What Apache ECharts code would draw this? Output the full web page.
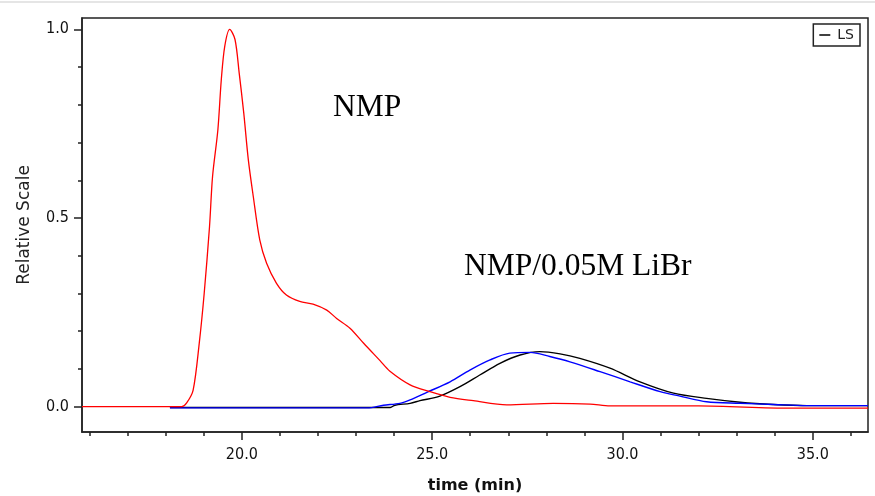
<!DOCTYPE html>
<html>
<head>
<meta charset="utf-8">
<script src="https://cdn.jsdelivr.net/npm/echarts@6.0.0/dist/echarts.min.js"></script>
<style>
  html, body { margin: 0; padding: 0; background: #fff; }
  #root { width: 875px; height: 496px; }
</style>
</head>
<body>
<div id="root"></div>
<script>
// red trace, NMP
const nmpTime = [15.8, 18.42, 18.55, 18.72, 18.88, 19.01, 19.15, 19.23, 19.37, 19.46, 19.55, 19.68, 19.82, 19.93, 20.05, 20.17, 20.30, 20.47, 20.65, 20.91, 21.17, 21.52, 21.87, 22.23, 22.49, 22.84, 23.2, 23.63, 23.89, 24.42, 24.94, 25.47, 26.08, 26.96, 28.18, 29.15, 29.67, 32.0, 34.4, 36.45];
const nmpValue = [0, 0, 0.01, 0.044, 0.168, 0.30, 0.477, 0.61, 0.734, 0.867, 0.955, 1.0, 0.973, 0.884, 0.778, 0.654, 0.557, 0.442, 0.38, 0.327, 0.296, 0.279, 0.272, 0.256, 0.234, 0.208, 0.168, 0.122, 0.094, 0.058, 0.040, 0.025, 0.016, 0.005, 0.009, 0.007, 0.002, 0.002, -0.004, -0.004];

// blue trace, NMP/0.05M LiBr
const libTime = [18.11, 23.3, 23.72, 24.15, 24.42, 24.86, 25.47, 25.99, 26.52, 27.04, 27.57, 28.09, 28.62, 29.41, 30.20, 30.99, 31.51, 32.21, 33.09, 33.96, 34.84, 36.45];
const libValue = [-0.003, -0.003, 0.004, 0.009, 0.018, 0.038, 0.066, 0.097, 0.124, 0.142, 0.144, 0.133, 0.119, 0.093, 0.066, 0.040, 0.028, 0.013, 0.009, 0.006, 0.003, 0.003];

// black trace, LS
const lsTime = [18.11, 23.9, 24.02, 24.42, 24.68, 25.20, 25.73, 26.25, 26.78, 27.31, 27.83, 28.36, 28.88, 29.67, 30.46, 31.34, 32.21, 33.09, 33.96, 34.84, 36.45];
const lsValue = [-0.002, -0.002, 0.004, 0.009, 0.016, 0.028, 0.053, 0.084, 0.115, 0.137, 0.146, 0.140, 0.128, 0.102, 0.066, 0.036, 0.022, 0.012, 0.006, 0.003, 0.003];

const xMajor = [20, 25, 30, 35];
const xMinor = [16, 17, 18, 19, 21, 22, 23, 24, 26, 27, 28, 29, 31, 32, 33, 34, 36];
const yMajor = [0, 0.5, 1.0];
const yMinor = [0.1, 0.2, 0.3, 0.4, 0.6, 0.7, 0.8, 0.9];

const pairs = (xs, ys) => xs.map((x, i) => [x, ys[i]]);

const axisColor = '#222';
const labelFont = { fontFamily: 'DejaVu Sans Condensed', fontSize: 16, color: '#111' };

const chart = echarts.init(document.getElementById('root'));
const option = {
  animation: false,
  backgroundColor: '#fff',
  grid: {
    left: 82, top: 18, right: 7, bottom: 64,
    outerBoundsMode: 'none', containLabel: false,
    show: true, borderColor: axisColor, borderWidth: 1.5
  },
  legend: {
    data: ['LS'],
    right: 15, top: 24,
    borderColor: axisColor, borderWidth: 1.5, borderRadius: 0,
    padding: [4, 6, 4, 6],
    icon: 'rect', itemWidth: 11, itemHeight: 1.5, itemGap: 4,
    textStyle: { fontFamily: 'DejaVu Sans', fontSize: 14, color: '#222', padding: [0, 0, 0, 2] }
  },
  xAxis: [
    {
      type: 'value', min: 15.8, max: 36.45, position: 'bottom',
      axisLine: { onZero: false, lineStyle: { color: axisColor, width: 1.5 } },
      axisTick: { customValues: xMajor, length: 8, lineStyle: { color: axisColor, width: 1.5 } },
      axisLabel: Object.assign({ customValues: xMajor, margin: 15, formatter: v => v.toFixed(1) }, labelFont),
      splitLine: { show: false },
      name: 'time (min)', nameLocation: 'middle', nameGap: 46,
      nameTextStyle: { fontFamily: 'DejaVu Sans', fontWeight: 'bold', fontSize: 16, color: '#111' }
    },
    {
      type: 'value', min: 15.8, max: 36.45, position: 'bottom',
      axisLine: { show: false, onZero: false },
      axisTick: { show: true, customValues: xMinor, length: 4, lineStyle: { color: axisColor, width: 1.5 } },
      axisLabel: { show: false },
      splitLine: { show: false }
    }
  ],
  yAxis: [
    {
      type: 'value', min: -0.067, max: 1.03, position: 'left',
      axisLine: { show: true, onZero: false, lineStyle: { color: axisColor, width: 1.5 } },
      axisTick: { show: true, customValues: yMajor, length: 8, lineStyle: { color: axisColor, width: 1.5 } },
      axisLabel: Object.assign({ customValues: yMajor, margin: 13, formatter: v => v.toFixed(1) }, labelFont),
      splitLine: { show: false },
      name: 'Relative Scale', nameLocation: 'middle', nameGap: 49,
      nameTextStyle: { fontFamily: 'DejaVu Sans', fontSize: 17, color: '#222' }
    },
    {
      type: 'value', min: -0.067, max: 1.03, position: 'left',
      axisLine: { show: false, onZero: false },
      axisTick: { show: true, customValues: yMinor, length: 4, lineStyle: { color: axisColor, width: 1.5 } },
      axisLabel: { show: false },
      splitLine: { show: false }
    }
  ],
  series: [
    {
      name: 'LS', type: 'line', data: pairs(lsTime, lsValue),
      showSymbol: false, smooth: 0.3,
      lineStyle: { color: '#000', width: 1.4 }, itemStyle: { color: '#000' }
    },
    {
      name: 'NMP/0.05M LiBr', type: 'line', data: pairs(libTime, libValue),
      showSymbol: false, smooth: 0.3,
      lineStyle: { color: '#0000ff', width: 1.4 }, itemStyle: { color: '#0000ff' }
    },
    {
      name: 'NMP', type: 'line', data: pairs(nmpTime, nmpValue),
      showSymbol: false, smooth: 0.3,
      lineStyle: { color: '#ff0000', width: 1.3 }, itemStyle: { color: '#ff0000' }
    }
  ],
  graphic: [
    { type: 'line', shape: { x1: 0, y1: 2, x2: 875, y2: 2 }, style: { stroke: '#ddd', lineWidth: 1.5 } },
    { type: 'text', left: 333, top: 92, style: { text: 'NMP', font: '31.5px "Liberation Serif"', fill: '#000' } },
    { type: 'text', left: 464, top: 251, style: { text: 'NMP/0.05M LiBr', font: '31.5px "Liberation Serif"', fill: '#000' } }
  ]
};
chart.setOption(option);
</script>
</body>
</html>
